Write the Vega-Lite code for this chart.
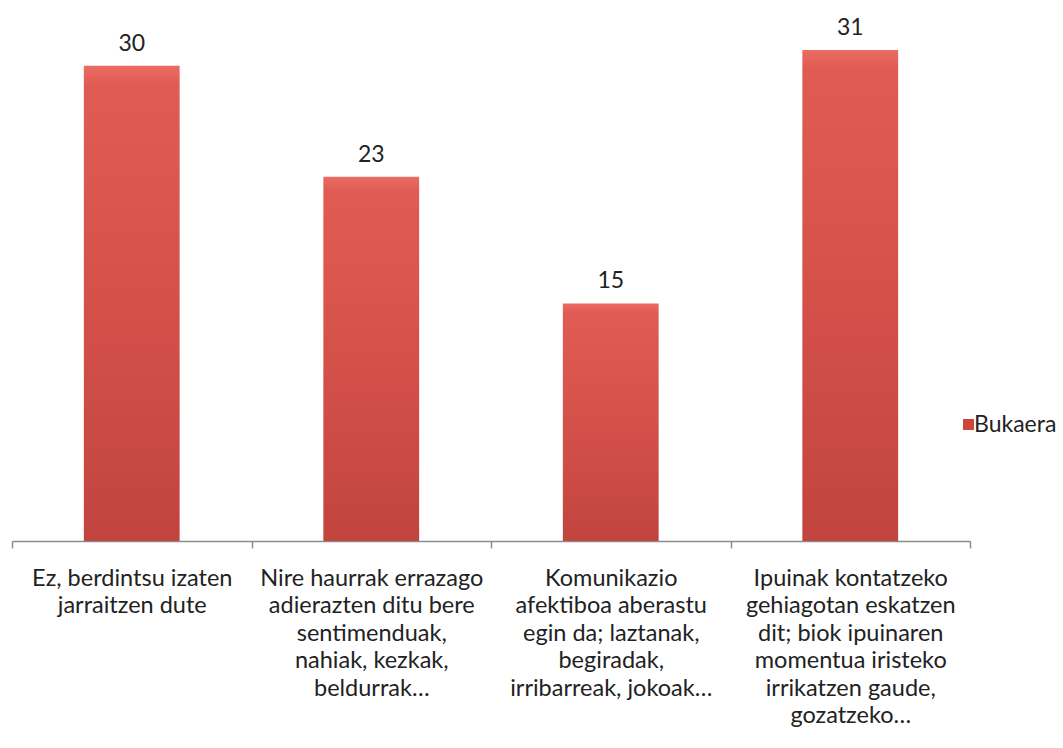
{
  "$schema": "https://vega.github.io/schema/vega-lite/v6.json",
  "autosize": "none",
  "width": 958,
  "height": 491,
  "padding": {"left": 12, "top": 50, "right": 93, "bottom": 207},
  "background": "white",
  "config": {"view": {"stroke": null}, "font": "Lato"},
  "data": {"values": [
    {"cat": "Ez, berdintsu izaten|jarraitzen dute", "value": 30, "series": "Bukaera", "order": 1},
    {"cat": "Nire haurrak errazago|adierazten ditu bere|sentimenduak,|nahiak, kezkak,|beldurrak…", "value": 23, "series": "Bukaera", "order": 2},
    {"cat": "Komunikazio|afektiboa aberastu|egin da; laztanak,|begiradak,|irribarreak, jokoak…", "value": 15, "series": "Bukaera", "order": 3},
    {"cat": "Ipuinak kontatzeko|gehiagotan eskatzen|dit; biok ipuinaren|momentua iristeko|irrikatzen gaude,|gozatzeko…", "value": 31, "series": "Bukaera", "order": 4}
  ]},
  "encoding": {
    "x": {"field": "cat", "type": "nominal", "sort": {"field": "order"},
      "scale": {"paddingInner": 0, "paddingOuter": 0},
      "axis": {"title": null, "labelAngle": 0, "labelExpr": "split(datum.label, '|')",
        "labelFontSize": 23.5, "labelColor": "#222", "labelLineHeight": 27.5, "labelPadding": 18,
        "labelLimit": 300, "domainColor": "#8c8c8c", "domainWidth": 1.5, "tickColor": "#8c8c8c",
        "tickWidth": 1.5, "tickSize": 7, "tickBand": "extent", "labelFont": "Lato"}},
    "y": {"field": "value", "type": "quantitative", "scale": {"domain": [0, 31], "nice": false}, "axis": null}
  },
  "layer": [
    {"mark": {"type": "bar", "width": {"band": 0.4}, "color": {"gradient": "linear", "x1": 0, "y1": 0, "x2": 0, "y2": 1,
          "stops": [{"offset": 0, "color": "#ea6c64"}, {"offset": 0.04, "color": "#e05b53"}, {"offset": 0.5, "color": "#d4514a"}, {"offset": 1, "color": "#c2443e"}]}}},
    {"mark": {"type": "square", "opacity": 0, "size": 1},
     "encoding": {"color": {"field": "series", "type": "nominal",
        "scale": {"range": ["#c9473f"]},
        "legend": {"title": null, "orient": "none", "legendX": 945, "legendY": 363, "symbolType": "square", "symbolSize": 120, "symbolOpacity": 1, "labelOffset": -6, "labelFontSize": 23, "labelColor": "#222", "labelFont": "Lato", "symbolStrokeWidth": 0}}}},
    {"mark": {"type": "text", "dy": -15, "fontSize": 23, "color": "#222", "baseline": "alphabetic", "font": "Lato"},
     "encoding": {"text": {"field": "value", "type": "quantitative"}}}
  ]
}
